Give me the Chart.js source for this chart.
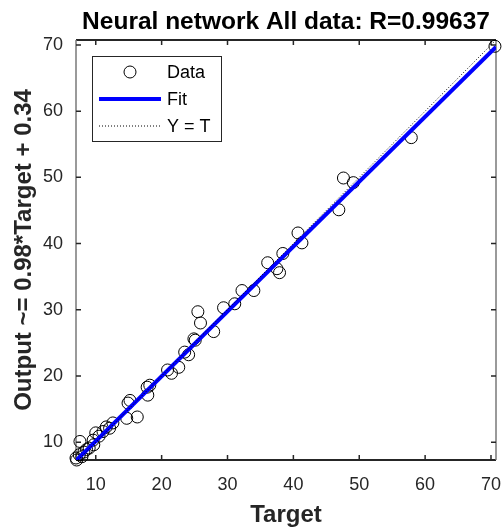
<!DOCTYPE html>
<html>
<head>
<meta charset="utf-8">
<script src="https://cdn.jsdelivr.net/npm/chart.js@4.4.0/dist/chart.umd.min.js"></script>
<style>
  html, body { margin: 0; padding: 0; background: #fff; }
  #wrap { width: 503px; height: 528px; }
</style>
</head>
<body>
<div id="wrap"><canvas id="regChart" width="503" height="528"></canvas></div>
<script>
// Veriler
const targets = [70.6, 57.9, 47.6, 49.1, 46.9, 40.7, 41.3, 38.4, 36.1, 37.5, 37.9, 34.0, 32.2, 31.1, 29.4,
  27.9, 25.5, 25.9, 24.9, 25.1, 23.5, 24.1, 22.6, 20.9, 21.5, 18.2, 17.8, 17.9, 16.3, 14.9, 15.2, 14.7,
  12.6, 12.1, 11.6, 11.1, 10.0, 10.5, 9.6, 7.6, 9.7, 9.0, 8.2, 8.6, 7.5, 7.9, 7.0, 7.1];
const outputs = [69.8, 56.0, 49.9, 49.2, 45.1, 41.6, 40.1, 38.5, 37.1, 36.2, 35.6, 32.9, 32.9, 30.9, 30.3,
  26.7, 29.7, 28.0, 25.6, 25.4, 23.6, 23.2, 21.3, 20.9, 20.4, 18.6, 18.3, 17.1, 13.8, 15.9, 16.3, 13.6,
  12.9, 12.1, 12.3, 11.6, 11.4, 10.9, 10.3, 10.1, 9.6, 9.1, 8.5, 8.9, 8.1, 7.8, 7.6, 7.3];
const fitX = [7.0, 70.76];
const fitY = [7.2, 69.7];
const identityX = [7.0, 70.76];
const identityY = [7.0, 70.76];
const xTicks = [10, 20, 30, 40, 50, 60, 70];
const yTicks = [10, 20, 30, 40, 50, 60, 70];

const axisColor = '#262626';

// Kutu ve içe dönük tik çizgileri
const boxPlugin = {
  id: 'boxPlugin',
  beforeDatasetsDraw(chart) {
    const { ctx, chartArea: a, scales: { x, y } } = chart;
    ctx.save();
    ctx.strokeStyle = axisColor;
    ctx.lineWidth = 2;
    ctx.beginPath();
    ctx.moveTo(a.left, a.top); ctx.lineTo(a.right, a.top);
    ctx.moveTo(a.left, a.bottom); ctx.lineTo(a.right, a.bottom);
    ctx.stroke();
    ctx.strokeStyle = '#7a7a7a';
    ctx.lineWidth = 1.5;
    ctx.beginPath();
    ctx.moveTo(a.left, a.top); ctx.lineTo(a.left, a.bottom);
    ctx.moveTo(a.right, a.top); ctx.lineTo(a.right, a.bottom);
    ctx.stroke();
    ctx.strokeStyle = axisColor;
    ctx.lineWidth = 1.5;
    ctx.beginPath();
    xTicks.forEach(v => {
      const px = x.getPixelForValue(v);
      ctx.moveTo(px, a.bottom); ctx.lineTo(px, a.bottom - 5);
      ctx.moveTo(px, a.top); ctx.lineTo(px, a.top + 5);
    });
    yTicks.forEach(v => {
      const py = y.getPixelForValue(v);
      ctx.moveTo(a.left, py); ctx.lineTo(a.left + 5, py);
      ctx.moveTo(a.right, py); ctx.lineTo(a.right - 5, py);
    });
    ctx.stroke();
    ctx.restore();
  },
  // Lejant kutusu
  afterDraw(chart) {
    const { ctx, chartArea: a } = chart;
    const bx = a.left + 16, by = a.top + 16, bw = 129, bh = 85;
    ctx.save();
    ctx.fillStyle = '#fff';
    ctx.fillRect(bx, by, bw, bh);
    ctx.strokeStyle = axisColor;
    ctx.lineWidth = 1;
    ctx.strokeRect(bx + 0.5, by + 0.5, bw, bh);
    ctx.font = '18px Arial, "Liberation Sans", sans-serif';
    ctx.fillStyle = '#000';
    ctx.textBaseline = 'middle';
    chart.data.datasets.forEach((ds, i) => {
      const ry = by + 16 + i * 27;
      const x0 = bx + 7, x1 = bx + 69;
      ctx.save();
      if (ds.type === 'line') {
        ctx.strokeStyle = ds.borderColor;
        ctx.lineWidth = ds.borderWidth;
        ctx.setLineDash(ds.borderDash || []);
        ctx.beginPath();
        ctx.moveTo(x0, ry); ctx.lineTo(x1, ry);
        ctx.stroke();
      } else {
        ctx.strokeStyle = ds.borderColor;
        ctx.lineWidth = ds.borderWidth;
        ctx.beginPath();
        ctx.arc((x0 + x1) / 2, ry, ds.pointRadius, 0, Math.PI * 2);
        ctx.stroke();
      }
      ctx.restore();
      ctx.fillText(ds.label, bx + 75, ry + 1);
    });
    ctx.restore();
  }
};

const ctx = document.getElementById('regChart').getContext('2d');
new Chart(ctx, {
  type: 'scatter',
  data: {
    datasets: [
      {
        label: 'Data',
        data: targets.map((t, i) => ({ x: t, y: outputs[i] })),
        pointStyle: 'circle',
        pointRadius: 6,
        borderColor: '#000',
        backgroundColor: 'rgba(0,0,0,0)',
        borderWidth: 1,
        clip: false,
        order: 3
      },
      {
        type: 'line',
        label: 'Fit',
        data: fitX.map((v, i) => ({ x: v, y: fitY[i] })),
        borderColor: '#0000ff',
        borderWidth: 4,
        pointRadius: 0,
        fill: false,
        order: 2
      },
      {
        type: 'line',
        label: 'Y = T',
        data: identityX.map((v, i) => ({ x: v, y: identityY[i] })),
        borderColor: '#000',
        borderWidth: 1,
        borderDash: [1, 2],
        pointRadius: 0,
        fill: false,
        order: 1
      }
    ]
  },
  options: {
    responsive: false,
    animation: false,
    devicePixelRatio: 1,
    layout: { padding: { left: 0, right: 6, top: 0, bottom: 0 } },
    plugins: {
      legend: { display: false },
      tooltip: { enabled: false },
      title: {
        display: true,
        fullSize: false,
        text: 'Neural network All data: R=0.99637',
        color: '#000',
        font: { family: 'Arial, "Liberation Sans", sans-serif', size: 24.5, weight: 'bold', lineHeight: 1.2 },
        padding: { top: 8, bottom: 2.6 }
      }
    },
    scales: {
      x: {
        type: 'linear',
        position: 'bottom',
        min: 7.0,
        max: 70.76,
        grid: { display: false, drawTicks: false },
        border: { display: false },
        afterBuildTicks: s => { s.ticks = xTicks.map(v => ({ value: v })); },
        afterFit: s => { s.height = 68; s.paddingLeft = 0; s.paddingRight = 0; },
        ticks: {
          color: axisColor,
          padding: 14,
          maxRotation: 0,
          font: { family: 'Arial, "Liberation Sans", sans-serif', size: 18 }
        },
        title: {
          display: true,
          text: 'Target',
          color: axisColor,
          font: { family: 'Arial, "Liberation Sans", sans-serif', size: 24, weight: 'bold', lineHeight: 1 },
          padding: { top: 0, bottom: 1 }
        }
      },
      y: {
        type: 'linear',
        position: 'left',
        min: 7.3,
        max: 70.75,
        grid: { display: false, drawTicks: false },
        border: { display: false },
        afterBuildTicks: s => { s.ticks = yTicks.map(v => ({ value: v })); },
        afterFit: s => { s.width = 76; s.paddingTop = 0; s.paddingBottom = 0; },
        ticks: {
          color: axisColor,
          padding: 13,
          font: { family: 'Arial, "Liberation Sans", sans-serif', size: 18 }
        },
        title: {
          display: true,
          text: 'Output ~= 0.98*Target + 0.34',
          color: axisColor,
          font: { family: 'Arial, "Liberation Sans", sans-serif', size: 24, weight: 'bold', lineHeight: 1 },
          padding: { top: 12, bottom: 0 }
        }
      }
    }
  },
  plugins: [boxPlugin]
});
</script>
</body>
</html>
